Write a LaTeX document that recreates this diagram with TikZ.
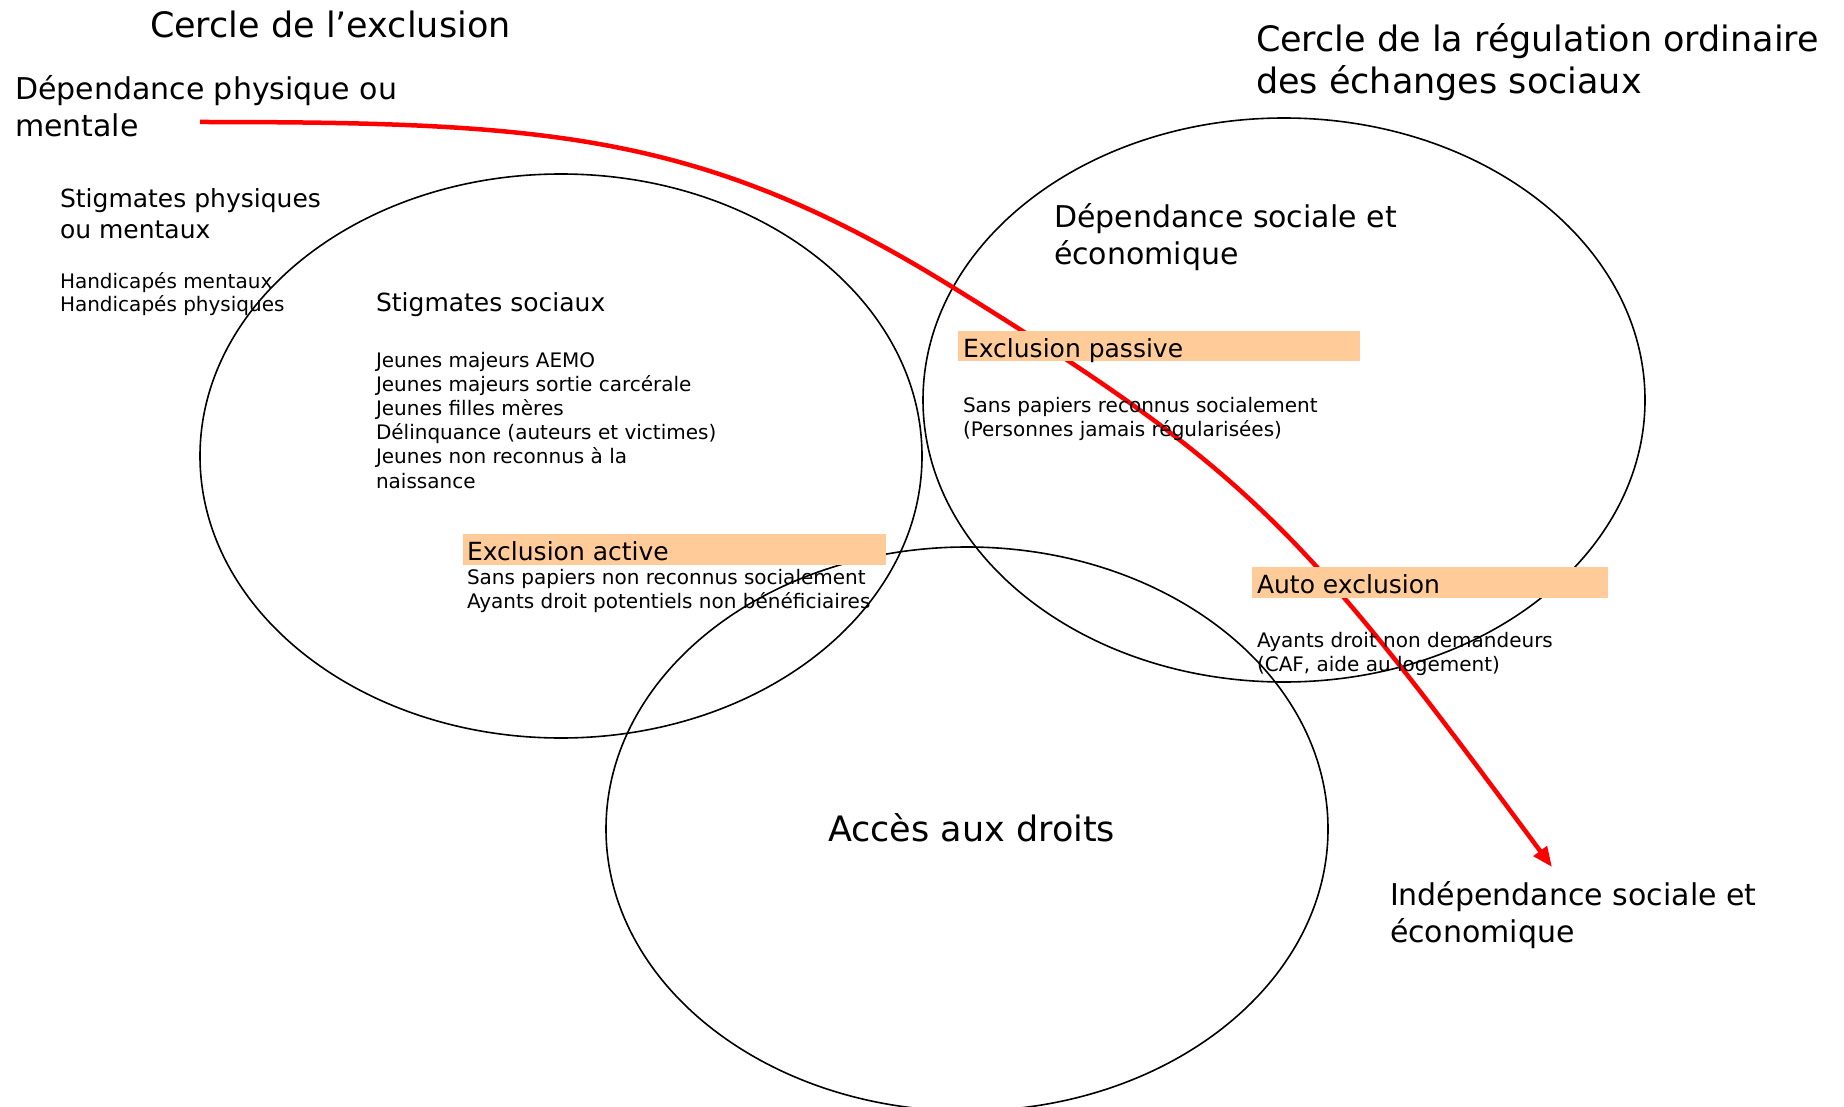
\documentclass[tikz,border=0pt]{standalone}
\usepackage{fontspec}
\setmainfont{DejaVu Sans}
\usetikzlibrary{shapes.geometric,arrows.meta}
\definecolor{peach}{RGB}{255,204,153}
\definecolor{arrowred}{RGB}{255,0,0}
\begin{document}
\begin{tikzpicture}[x=1pt,y=-1pt,
  every node/.style={inner sep=0pt, outer sep=0pt},
  fa/.style={font=\fontsize{35}{42}\selectfont, anchor=base west, align=left},
  fb/.style={font=\fontsize{30}{37}\selectfont, anchor=base west, align=left},
  fc/.style={font=\fontsize{25}{31}\selectfont, anchor=base west, align=left},
  fd/.style={font=\fontsize{20}{24.2}\selectfont, anchor=base west, align=left},
  circ/.style={draw=black, line width=1.6pt, ellipse, minimum width=722pt, minimum height=564pt},
  peachbox/.style={fill=peach, anchor=north west},
  redarrow/.style={draw=arrowred, line width=4.5pt, -{Triangle[length=20pt,width=16pt]}}
]
\useasboundingbox (0,0) rectangle (1844,1107);
\clip (0,0) rectangle (1844,1107);

% circles
\node[circ] (exclusion) at (561,456) {};
\node[circ] (regulation) at (1284,400) {};
\node[circ] (droits) at (967,829) {};

% red arrow
\coordinate (arrowStart) at (200,122);
\coordinate (arrowMid) at (954,288);
\coordinate (arrowEnd) at (1552,867);
\draw[redarrow] (arrowStart) .. controls (550,122) and (704,133) .. (arrowMid)
  .. controls (1254,474) and (1302,529.5) .. (arrowEnd);

% orange boxes
\node[peachbox, minimum width=423pt, minimum height=31pt] (activeBox) at (463,534) {};
\node[peachbox, minimum width=402pt, minimum height=30pt] (passiveBox) at (958,331) {};
\node[peachbox, minimum width=356pt, minimum height=31pt] (autoBox) at (1252,567) {};

% texts (multi-line nodes: anchor is the baseline of the last line)
\node[fa] (titleL) at (150,38) {Cercle de l’exclusion};
\node[fb] (depPhys) at (15,137) {Dépendance physique ou\\mentale};
\node[fc] (stigPhys) at (60,239) {Stigmates physiques\\ou mentaux};
\node[fd, font=\fontsize{20}{24}\selectfont] (handi) at (60,312) {Handicapés mentaux\\Handicapés physiques};
\node[fc] (stigSoc) at (376,311) {Stigmates sociaux};
\node[fd] (stigList) at (376,488) {Jeunes majeurs AEMO\\Jeunes majeurs sortie carcérale\\Jeunes filles mères\\Délinquance (auteurs et victimes)\\Jeunes non reconnus à la\\naissance};
\node[fc] (activeLbl) at (467,560) {Exclusion active};
\node[fd, font=\fontsize{20}{23.5}\selectfont] (activeTxt) at (467,608) {Sans papiers non reconnus socialement\\Ayants droit potentiels non bénéficiaires};

\node[fa] (titleR) at (1256,94) {Cercle de la régulation ordinaire\\des échanges sociaux};
\node[fb] (depSoc) at (1054,265) {Dépendance sociale et\\économique};
\node[fc] (passiveLbl) at (963,357) {Exclusion passive};
\node[fd, font=\fontsize{20}{24.5}\selectfont] (passiveTxt) at (963,436.5) {Sans papiers reconnus socialement\\(Personnes jamais régularisées)};
\node[fc] (autoLbl) at (1257,593) {Auto exclusion};
\node[fd, font=\fontsize{20}{24}\selectfont] (autoTxt) at (1257,671) {Ayants droit non demandeurs\\(CAF, aide au logement)};

\node[fa] (acces) at (828,841) {Accès aux droits};
\node[fb] (indep) at (1390,942) {Indépendance sociale et\\économique};
\end{tikzpicture}
\end{document}
